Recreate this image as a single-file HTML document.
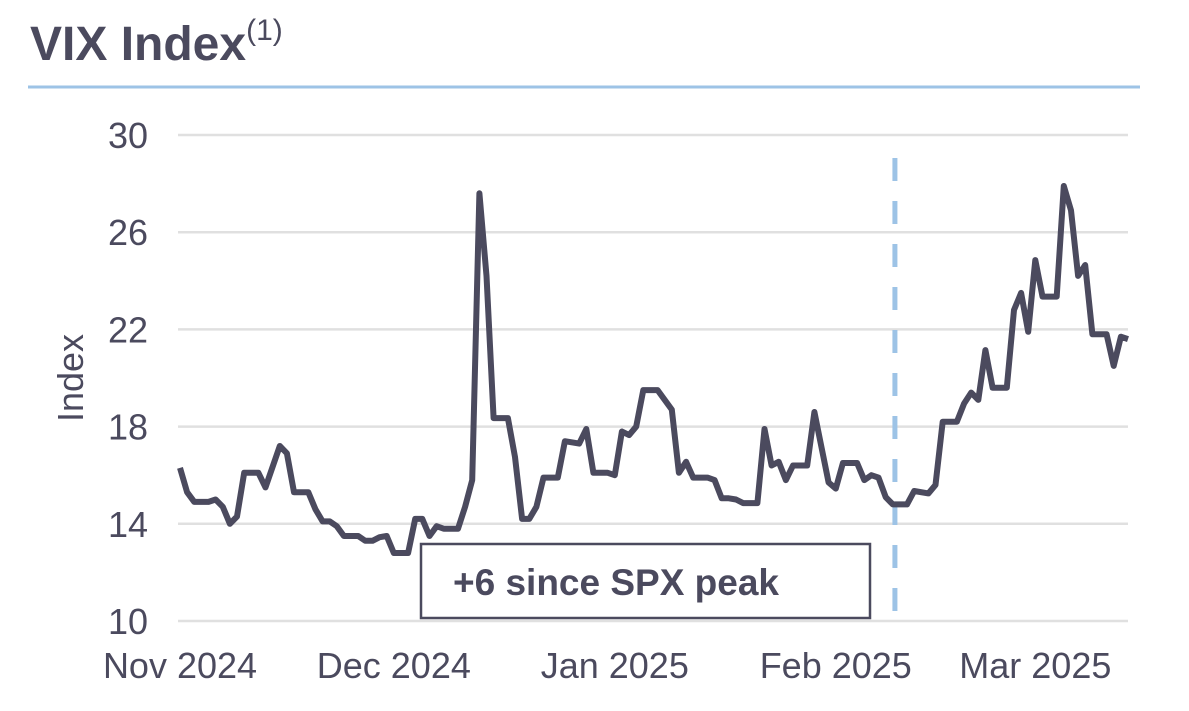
<!DOCTYPE html>
<html><head><meta charset="utf-8"><style>
body{margin:0;background:#fff;}
svg{display:block;font-family:"Liberation Sans",Arial,sans-serif;}
</style></head><body>
<svg id="chart" width="1189" height="711" viewBox="0 0 1189 711" xmlns="http://www.w3.org/2000/svg">
<text x="30" y="60" font-size="48" font-weight="bold" fill="#4b4a5e">VIX Index<tspan font-size="30" font-weight="normal" dy="-20">(1)</tspan></text>
<line x1="28" y1="87" x2="1140" y2="87" stroke="#9dc3e6" stroke-width="3"/>
<g id="grid"></g>
<g id="yticks"></g>
<g id="xticks"></g>
<text transform="translate(83,378) rotate(-90)" text-anchor="middle" font-size="36" fill="#4b4a5e">Index</text>
<line id="peak" stroke="#9dc3e6" stroke-width="5" stroke-dasharray="23,20"/>
<path id="vix" fill="none" stroke="#4b4a5e" stroke-width="6" stroke-linejoin="round"/>
<rect x="421" y="544" width="449" height="74" fill="#fff" stroke="#4b4a5e" stroke-width="2.5"/>
<text x="453" y="595" font-size="37" font-weight="bold" fill="#4b4a5e">+6 since SPX peak</text>
</svg>
<script>
const days=[0,1,2,4,5,6,7,8,9,11,12,14,15,16,18,19,20,21,22,23,25,26,27,28,29,30,32,33,34,35,36,37,39,40,41,42,43,44,46,47,48,49,50,51,53,54,56,57,58,60,61,62,63,64,65,67,68,69,70,71,72,74,75,76,77,78,79,81,82,83,84,85,86,88,89,90,91,92,93,95,96,97,98,99,100,102,103,105,106,107,109,110,111,112,113,114,116,117,118,119,120,121,123,124,125,126,127,128,130,131,132,133];
const values=[16.3,15.3,14.9,14.9,15.0,14.7,14.0,14.3,16.1,16.1,15.5,17.2,16.9,15.3,15.3,14.6,14.1,14.1,13.9,13.5,13.5,13.3,13.3,13.45,13.5,12.8,12.8,14.2,14.2,13.5,13.9,13.8,13.8,14.7,15.8,27.6,24.2,18.35,18.35,16.75,14.2,14.2,14.7,15.9,15.9,17.4,17.3,17.9,16.1,16.1,16.0,17.8,17.65,18.0,19.5,19.5,19.1,18.7,16.1,16.55,15.9,15.9,15.8,15.05,15.05,15.0,14.85,14.85,17.9,16.4,16.55,15.8,16.4,16.4,18.6,17.15,15.7,15.45,16.5,16.5,15.8,16.0,15.9,15.1,14.8,14.8,15.35,15.25,15.6,18.2,18.2,18.95,19.4,19.1,21.15,19.6,19.6,22.8,23.5,21.9,24.85,23.35,23.35,27.9,26.9,24.2,24.65,21.8,21.8,20.5,21.7,21.6];
const yTicks=[10,14,18,22,26,30];
const monthDays=[0,30,61,92,120];
const monthLabels=["Nov 2024","Dec 2024","Jan 2025","Feb 2025","Mar 2025"];
const peakDay=100.3;
const X0=180,X1=1128,D0=0,D1=133,Y0=621,Y1=135,V0=10,V1=30;
const xs=d=>X0+(d-D0)/(D1-D0)*(X1-X0);
const ys=v=>Y0-(v-V0)/(V1-V0)*(Y0-Y1);
const NS="http://www.w3.org/2000/svg";
const grid=document.getElementById('grid'),yt=document.getElementById('yticks'),xt=document.getElementById('xticks');
yTicks.forEach(v=>{
  const l=document.createElementNS(NS,'line');
  
  
  l.setAttribute('x1',178);l.setAttribute('x2',1128);l.setAttribute('y1',ys(v));l.setAttribute('y2',ys(v));
  l.setAttribute('stroke','#e0e0e0');l.setAttribute('stroke-width','2.5');grid.appendChild(l);
  const t=document.createElementNS(NS,'text');
  
  
  t.setAttribute('x',148);t.setAttribute('y',ys(v)+13);t.setAttribute('text-anchor','end');
  t.setAttribute('font-size','36');t.setAttribute('fill','#4b4a5e');t.textContent=v;yt.appendChild(t);
});
monthDays.forEach((d,i)=>{
  const t=document.createElementNS(NS,'text');
  
  
  t.setAttribute('x',xs(d));t.setAttribute('y',678);t.setAttribute('text-anchor','middle');
  t.setAttribute('font-size','36');t.setAttribute('fill','#4b4a5e');t.textContent=monthLabels[i];xt.appendChild(t);
});
const pk=document.getElementById('peak');
pk.setAttribute('x1',xs(peakDay));pk.setAttribute('x2',xs(peakDay));pk.setAttribute('y1',158);pk.setAttribute('y2',612);
document.getElementById('vix').setAttribute('d',days.map((d,i)=>(i?'L':'M')+xs(d).toFixed(1)+','+ys(values[i]).toFixed(1)).join(' '));
</script>
</body></html>
